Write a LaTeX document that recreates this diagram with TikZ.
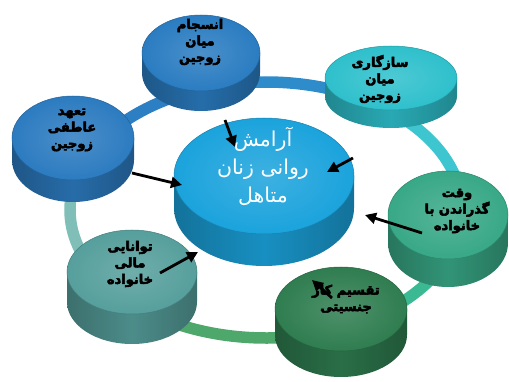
\documentclass[tikz,border=0pt]{standalone}
\usepackage{fontspec}
\usetikzlibrary{arrows.meta}
\newfontfamily\arfont[Script=Arabic]{DejaVu Sans}
\newfontfamily\arheavy[Script=Arabic,FakeBold=4]{DejaVu Sans Bold}
\TeXXeTstate=1
\definecolor{cTop}{HTML}{2A7CC1}
\definecolor{cTopR}{HTML}{2EC0CC}
\definecolor{cLeft}{HTML}{2C7BC0}
\definecolor{cRight}{HTML}{38A886}
\definecolor{cBot}{HTML}{2F7D50}
\definecolor{cBotL}{HTML}{569F9C}
\definecolor{cCen}{HTML}{1BA3DC}
\definecolor{r1}{HTML}{2D7FC4}
\definecolor{r2}{HTML}{2F8CCB}
\definecolor{r3}{HTML}{3DC6CF}
\definecolor{r4}{HTML}{3BB993}
\definecolor{r5}{HTML}{4EA86C}
\definecolor{r6}{HTML}{7FBFB8}
\newcommand\puck[7]{%
  \shade[left color=#7!70!black, right color=#7!70!black, middle color=#7!88!black]
    (#2-#4,-#3) -- (#2-#4,-#3-#6) arc[start angle=180,end angle=360,x radius=#4,y radius=#5] -- (#2+#4,-#3) -- cycle;
  \shade[inner color=#7!85!white, outer color=#7] (#2,-#3) ellipse[x radius=#4, y radius=#5];
  \draw[#7!80!black, line width=0.5pt] (#2,-#3) ellipse[x radius=#4, y radius=#5];
  \coordinate (#1) at (#2,-#3);
}
\tikzset{
  lbl/.style={font=\fontsize{13}{16.5}\selectfont\arheavy, align=center, text=black, inner sep=0pt},
  clbl/.style={font=\fontsize{20.5}{28}\selectfont\arfont, align=center, inner sep=0pt},
  arr/.style={-{Triangle[length=11pt,width=11pt]}, line width=2.8pt, black},
  ringseg/.style={line width=11.5pt}
}
\begin{document}
\begin{tikzpicture}[x=1pt,y=1pt]
\useasboundingbox (0,0) rectangle (509,-382);
% ring
\draw[ringseg, r1] ([shift={(266,-210)}]151:196 and 128) arc[start angle=151, end angle=105, x radius=196, y radius=128];
\draw[ringseg, r2] ([shift={(266,-210)}]105:196 and 128) arc[start angle=105, end angle=58, x radius=196, y radius=128];
\draw[ringseg, r3] ([shift={(266,-210)}]58:196 and 128) arc[start angle=58, end angle=-2, x radius=196, y radius=128];
\draw[ringseg, r4] ([shift={(266,-210)}]-2:196 and 128) arc[start angle=-2, end angle=-65, x radius=196, y radius=128];
\draw[ringseg, r5] ([shift={(266,-210)}]-65:196 and 128) arc[start angle=-65, end angle=-143, x radius=196, y radius=128];
\draw[ringseg, r6] ([shift={(266,-210)}]-143:196 and 128) arc[start angle=-143, end angle=-209, x radius=196, y radius=128];
% pucks
\puck{pTop}{201}{53}{59}{38}{20}{cTop}
\puck{pTopR}{391}{78}{66}{32}{18}{cTopR}
\puck{pLeft}{73}{138}{61}{42}{22}{cLeft}
\puck{pRight}{448}{215}{60}{44}{28}{cRight}
\puck{pBot}{341}{309}{66}{42}{26}{cBot}
\puck{pBotL}{132}{272}{65}{42}{30}{cBotL}
\puck{pCen}{264}{176}{90}{58}{32}{cCen}
% labels
\node[lbl] (tTop) at (200,-42) {\beginR انسجام\endR\\\beginR میان\endR\\\beginR زوجین\endR};
\node[lbl] (tTopR) at (380,-79) {\beginR سازگاری\endR\\\beginR میان\endR\\\beginR زوجین\endR};
\node[lbl] (tLeft) at (72,-130) {\beginR تعهد\endR\\\beginR عاطفی\endR\\\beginR زوجین\endR};
\node[lbl] (tRight) at (457,-211) {\beginR وقت\endR\\\beginR گذراندن با\endR\\\beginR خانواده\endR};
\node[lbl] (tBot) at (346,-299) {\beginR تقسیم کار\endR\\\beginR جنسیتی\endR};
\node[lbl] (tBotL) at (130,-264) {\beginR توانایی\endR\\\beginR مالی\endR\\\beginR خانواده\endR};
\node[clbl, text=white] (tCen) at (263,-166) {\beginR آرامش\endR\\\beginR روانی زنان\endR\\\beginR متاهل\endR};
% arrows
\coordinate (a1s) at (225,-120); \coordinate (a1e) at (235,-147);
\coordinate (a2s) at (353,-158); \coordinate (a2e) at (327,-172);
\coordinate (a3s) at (132,-173); \coordinate (a3e) at (182,-185);
\coordinate (a4s) at (422,-233); \coordinate (a4e) at (365,-215);
\coordinate (a5s) at (160,-273); \coordinate (a5e) at (198,-252);
\coordinate (a6s) at (332,-298); \coordinate (a6e) at (312,-280);
\draw[arr] (a1s) -- (a1e);
\draw[arr] (a2s) -- (a2e);
\draw[arr] (a3s) -- (a3e);
\draw[arr] (a4s) -- (a4e);
\draw[arr] (a5s) -- (a5e);
\draw[arr] (a6s) -- (a6e);
\end{tikzpicture}
\end{document}
